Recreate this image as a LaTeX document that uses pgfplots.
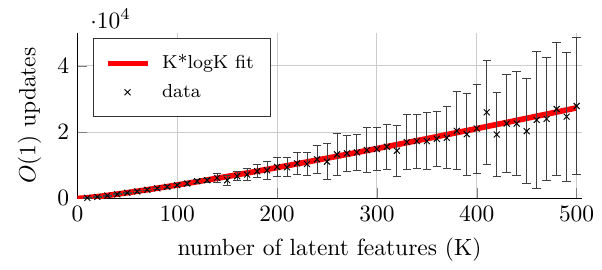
\documentclass[border=0pt]{standalone}
\usepackage{pgfplots}
\pgfplotsset{compat=1.18}
\usepackage{pgfplotstable}
\pgfplotstableread{
K y e
10 180 50
20 450 80
30 850 120
40 1250 150
50 1700 200
60 2100 230
70 2600 280
80 3050 330
90 3500 380
100 4000 420
110 4500 480
120 5200 550
130 5500 600
140 6200 1350
150 5500 1500
160 6700 1300
170 7200 1750
180 8200 2000
190 8500 2750
200 9500 2900
210 9400 2900
220 10600 3350
230 10400 3600
240 11800 4200
250 11100 5400
260 13300 6450
270 13600 5550
280 13900 5500
290 14600 6800
300 14900 6450
310 15600 6800
320 14400 7700
330 17000 8250
340 17300 8150
350 17300 8550
360 18000 8400
370 18300 9350
380 20400 11750
390 19400 12400
400 21100 13450
410 26000 15800
420 19300 12600
430 22600 14850
440 22600 15600
450 20300 15900
460 23700 20550
470 24000 18500
480 27000 19950
490 24700 19500
500 27900 20600
}\datatable
\pgfplotstableread{
K f
0 0
5 71
10 203
20 527
30 898
40 1298
50 1721
60 2162
70 2617
80 3085
90 3564
100 4053
110 4550
120 5056
130 5569
140 6089
150 6614
160 7146
170 7683
180 8226
190 8773
200 9325
210 9882
220 10442
230 11007
240 11575
250 12147
260 12723
270 13301
280 13884
290 14470
300 15058
310 15650
320 16243
330 16840
340 17441
350 18044
360 18647
370 19255
380 19864
390 20477
400 21090
410 21706
420 22325
430 22945
440 23568
450 24192
460 24820
470 25448
480 26079
490 26711
500 27344
}\fittable
\begin{document}
\begin{tikzpicture}
\begin{axis}[
  scale only axis,
  width=215pt, height=70.6pt,
  xmin=0, xmax=505,
  ymin=0, ymax=50000,
  xtick={0,100,200,300,400,500},
  ytick={0,20000,40000},
  axis x line*=bottom,
  axis y line*=left,
  grid=major,
  grid style={gray!40},
  xlabel={number of latent features (K)},
  ylabel={$O(1)$ updates},
  every y tick scale label/.style={at={(rel axis cs:0,1)}, anchor=base west, xshift=2pt, yshift=2pt},
  legend pos=north west,
  legend style={font=\footnotesize, draw=black!80, inner ysep=5pt, inner xsep=5pt, row sep=1pt,
    /tikz/every odd column/.append style={column sep=3pt}},
  legend cell align=left,
]
\addplot[red, line width=2.4pt, no marks] table[x=K, y=f] {\fittable};
\addlegendentry{K*logK fit}
\addplot[black, only marks, mark=x, mark size=1.8pt,
  error bars/.cd, y dir=both, y explicit,
  error bar style={black!75, thin}]
  table[x=K, y=y, y error=e] {\datatable};
\addlegendentry{data}
\end{axis}
\path (current axis.north west) ++(-33pt,14pt);
\path (current axis.south east) ++(8pt,-29.4pt);
\end{tikzpicture}
\end{document}
